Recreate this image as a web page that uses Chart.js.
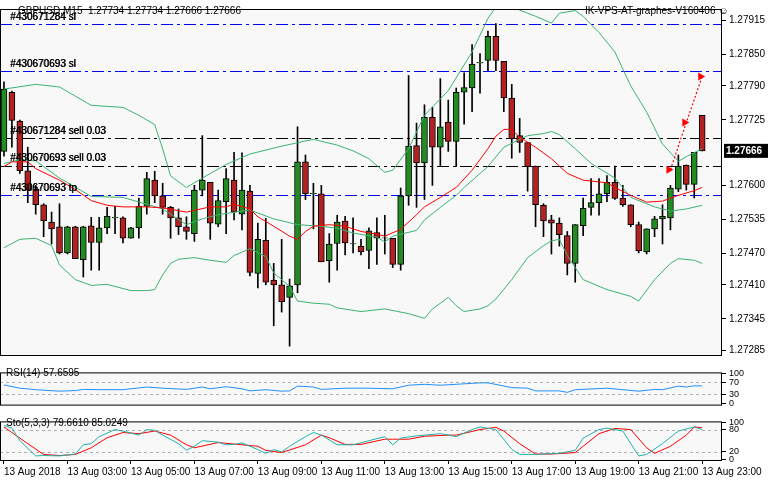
<!DOCTYPE html>
<html>
<head>
<meta charset="utf-8">
<script src="https://cdn.jsdelivr.net/npm/chart.js@4.4.0/dist/chart.umd.min.js"></script>
<style>
  body { margin: 0; background: #ffffff; width: 768px; height: 480px; overflow: hidden; }
  .pane { position: absolute; left: 0; width: 768px; }
  #main { top: 0; height: 364px; }
  #rsi { top: 364px; height: 49px; }
  #sto { top: 413px; height: 67px; }
</style>
</head>
<body>
<div class="pane" id="main"><canvas id="main-chart"></canvas></div>
<div class="pane" id="rsi"><canvas id="rsi-chart"></canvas></div>
<div class="pane" id="sto"><canvas id="sto-chart"></canvas></div>
<script>
// GBPUSD M15 candles, 13 Aug 2018 01:00 .. 23:00
const opens = [1.27665,1.27778,1.27723,1.27628,1.27593,1.27563,1.27530,1.27521,1.27471,1.27521,1.27458,1.27523,1.27491,1.27519,1.27538,1.27538,1.27499,1.27519,1.27560,1.27610,1.27580,1.27558,1.27538,1.27521,
  1.27508,1.27591,1.27606,1.27526,1.27569,1.27610,1.27545,1.27589,1.27432,1.27495,1.27419,1.27410,1.27386,1.27410,1.27645,1.27584,1.27584,1.27456,1.27489,1.27532,1.27488,1.27484,
  1.27476,1.27510,1.27499,1.27499,1.27449,1.27580,1.27676,1.27643,1.27730,1.27673,1.27721,1.27684,1.27778,1.27786,1.27834,1.27839,1.27885,1.27837,1.27767,1.27695,1.27682,1.27637,1.27562,
  1.27534,1.27528,1.27504,1.27451,1.27523,1.27558,1.27567,1.27584,1.27606,1.27576,1.27563,1.27525,1.27473,1.27517,1.27536,1.27538,1.27593,1.27639,1.27602,1.27734];
const highs = [1.27798,1.27780,1.27725,1.27673,1.27600,1.27565,1.27549,1.27565,1.27522,1.27522,1.27522,1.27539,1.27539,1.27558,1.27560,1.27540,1.27520,1.27576,1.27625,1.27627,1.27604,1.27560,1.27555,1.27540,
  1.27600,1.27695,1.27606,1.27591,1.27632,1.27663,1.27662,1.27600,1.27528,1.27537,1.27451,1.27497,1.27421,1.27712,1.27658,1.27604,1.27600,1.27508,1.27543,1.27541,1.27538,1.27497,
  1.27519,1.27538,1.27543,1.27499,1.27595,1.27810,1.27719,1.27754,1.27749,1.27804,1.27763,1.27786,1.27815,1.27869,1.27852,1.27895,1.27909,1.27837,1.27793,1.27728,1.27682,1.27637,1.27565,
  1.27543,1.27538,1.27512,1.27525,1.27576,1.27613,1.27613,1.27619,1.27637,1.27600,1.27563,1.27530,1.27517,1.27541,1.27563,1.27600,1.27658,1.27639,1.27663,1.27734];
const lows = [1.27656,1.27673,1.27623,1.27567,1.27545,1.27502,1.27488,1.27469,1.27469,1.27460,1.27425,1.27438,1.27438,1.27508,1.27508,1.27490,1.27499,1.27499,1.27545,1.27567,1.27545,1.27499,1.27506,1.27497,
  1.27493,1.27580,1.27497,1.27521,1.27508,1.27534,1.27515,1.27427,1.27404,1.27410,1.27332,1.27358,1.27293,1.27395,1.27573,1.27517,1.27454,1.27415,1.27438,1.27467,1.27471,1.27467,
  1.27441,1.27449,1.27469,1.27443,1.27438,1.27562,1.27558,1.27573,1.27600,1.27638,1.27665,1.27636,1.27717,1.27741,1.27776,1.27819,1.27819,1.27741,1.27652,1.27663,1.27589,1.27521,1.27502,
  1.27469,1.27484,1.27429,1.27415,1.27504,1.27543,1.27543,1.27569,1.27573,1.27560,1.27521,1.27471,1.27469,1.27502,1.27488,1.27515,1.27588,1.27591,1.27576,1.27666];
const closes = [1.27784,1.27724,1.27628,1.27591,1.27563,1.27532,1.27517,1.27471,1.27521,1.27460,1.27521,1.27491,1.27519,1.27541,1.27539,1.27499,1.27519,1.27560,1.27613,1.27580,1.27558,1.27538,1.27521,1.27512,
  1.27591,1.27610,1.27528,1.27571,1.27613,1.27549,1.27591,1.27434,1.27497,1.27415,1.27410,1.27378,1.27408,1.27645,1.27584,1.27585,1.27454,1.27488,1.27530,1.27490,1.27489,1.27473,
  1.27513,1.27499,1.27500,1.27449,1.27580,1.27675,1.27643,1.27730,1.27673,1.27712,1.27684,1.27778,1.27787,1.27832,1.27835,1.27885,1.27839,1.27767,1.27689,1.27682,1.27636,1.27563,1.27532,
  1.27528,1.27506,1.27451,1.27525,1.27556,1.27567,1.27584,1.27606,1.27575,1.27563,1.27525,1.27475,1.27517,1.27536,1.27541,1.27595,1.27637,1.27602,1.27663,1.27666];

// time axis labels (every 8 bars)
const timeLabels = ['13 Aug 2018','13 Aug 03:00','13 Aug 05:00','13 Aug 07:00','13 Aug 09:00','13 Aug 11:00',
  '13 Aug 13:00','13 Aug 15:00','13 Aug 17:00','13 Aug 19:00','13 Aug 21:00','13 Aug 23:00'];
const slotCount = 91;

// Bollinger bands and moving average, read at their turning points (bar index / price)
const bbUpperIdx = [0,4,7,11,15,17,19,20,21,23,25,28,31,35,39,42,44,46,48,49,51,53,56,59,61,62,64,67,69,70,72,73,75,77,79,81,83,85,86,88];
const bbUpperVal = [1.27784,1.27793,1.27788,1.27753,1.27749,1.27734,1.27716,1.27670,1.27618,1.27596,1.27614,1.27640,1.27660,1.27675,1.27688,1.27677,1.27666,1.27651,1.27625,1.27629,1.27670,1.27734,1.27781,1.27855,1.27919,1.27941,1.27941,1.27923,1.27910,1.27929,1.27934,1.27923,1.27892,1.27855,1.27790,1.27740,1.27679,1.27646,1.27655,1.27670];
const bbMidIdx = [0,2,4,7,11,15,18,20,23,25,27,30,31,34,37,40,42,44,47,48,49,52,53,55,57,58,61,63,65,66,68,69,70,72,74,77,79,82,84,86,88];
const bbMidVal = [1.27642,1.27649,1.27647,1.27614,1.27579,1.27577,1.27564,1.27555,1.27525,1.27536,1.27544,1.27551,1.27553,1.27536,1.27525,1.27522,1.27518,1.27509,1.27501,1.27492,1.27503,1.27514,1.27534,1.27558,1.27581,1.27596,1.27636,1.27673,1.27688,1.27695,1.27699,1.27703,1.27697,1.27670,1.27642,1.27614,1.27577,1.27559,1.27551,1.27555,1.27562];
const bbLowIdx = [0,2,4,6,7,9,11,13,16,18,19,20,21,22,24,26,28,29,31,33,34,36,37,39,41,42,45,48,51,53,54,56,57,58,60,61,62,64,66,68,69,70,71,73,76,79,80,82,84,85,87,88];
const bbLowVal = [1.27481,1.27497,1.27499,1.27485,1.27448,1.27420,1.27409,1.27411,1.27399,1.27399,1.27401,1.27429,1.27451,1.27459,1.27462,1.27457,1.27453,1.27466,1.27479,1.27464,1.27433,1.27407,1.27379,1.27375,1.27373,1.27366,1.27359,1.27364,1.27355,1.27346,1.27364,1.27386,1.27370,1.27359,1.27364,1.27370,1.27383,1.27420,1.27462,1.27485,1.27494,1.27497,1.27466,1.27420,1.27401,1.27388,1.27379,1.27420,1.27451,1.27460,1.27457,1.27451];
const maIdx = [0,1,3,4,7,9,11,13,15,18,20,23,26,28,29,31,32,34,36,37,38,39,41,43,45,47,48,50,52,53,55,57,59,61,62,63,64,65,67,69,71,73,76,77,79,81,83,85,87,88];
const maVal = [1.27636,1.27645,1.27645,1.27632,1.27610,1.27592,1.27571,1.27562,1.27559,1.27559,1.27557,1.27549,1.27559,1.27559,1.27564,1.27555,1.27540,1.27522,1.27503,1.27497,1.27512,1.27522,1.27525,1.27522,1.27512,1.27507,1.27503,1.27516,1.27544,1.27559,1.27577,1.27596,1.27629,1.27670,1.27694,1.27707,1.27707,1.27692,1.27673,1.27651,1.27623,1.27610,1.27605,1.27596,1.27581,1.27568,1.27570,1.27581,1.27590,1.27596];

// trade projection (dotted red)
const projIdx = [84,86,88];
const projVal = [1.27630,1.27720,1.27808];

// order levels
const orderPrices = [1.27908,1.27819,1.27690,1.27638,1.27581];
const orderLabels = ['#430671284 sl','#430670693 sl','#430671284 sell 0.03','#430670693 sell 0.03','#430670693 tp'];
const orderColors = ['#0000ff','#0000ff','#000000','#000000','#0000ff'];

const priceTicks = [1.27915,1.27850,1.27790,1.27725,1.27600,1.27535,1.27470,1.27410,1.27345,1.27285];
const lastPrice = 1.27666;

// RSI(14)
const rsiIdx = [0,2,4,7,9,10,12,15,16,18,20,23,25,26,28,30,31,33,35,36,37,39,40,43,46,49,51,53,55,57,60,61,64,66,67,70,71,72,76,78,80,82,83,85,86,87,88];
const rsiVal = [61,50,45,40,42,46,45,45,48,54,50,46,54,48,55,48,41,45,40,41,57,54,46,50,50,48,60,63,60,63,68,68,52,50,41,41,36,45,50,45,40,46,45,57,54,58,57.66];

// Stochastic(5,3,3)
const stoMainIdx = [0,1,2,4,5,7,9,10,11,12,14,15,17,18,19,20,22,23,24,25,27,28,29,30,32,33,34,35,36,38,39,40,42,44,46,48,49,50,52,55,57,59,60,62,64,65,67,70,72,73,75,76,78,79,80,81,83,85,87,88];
const stoMainVal = [91,84,50,9,10,9,14,39,42,61,80,76,65,80,78,65,42,24,35,50,46,39,40,44,26,16,26,20,35,61,72,65,39,39,50,61,39,57,63,69,61,80,87,80,27,13,13,16,24,57,80,84,76,42,9,13,42,76,87,79.66];
const stoSigIdx = [0,1,3,5,7,9,11,13,15,17,19,21,23,24,27,29,32,33,35,38,40,41,43,45,48,49,51,53,56,57,60,62,63,65,67,69,72,73,75,77,79,81,82,84,86,87,88];
const stoSigVal = [87,72,42,13,10,13,31,58,72,69,76,65,39,31,45,41,35,24,18,39,65,58,40,40,54,54,54,62,65,65,80,86,76,42,14,14,18,35,69,83,80,31,16,35,65,87,85.02];

const FONT = 'Liberation Sans';
Chart.defaults.font.family = FONT;
Chart.defaults.font.size = 10;
Chart.defaults.color = '#000';
Chart.defaults.animation = false;

const slots = [];
for (let i = 0; i < slotCount; i++) slots.push(i);
const pts = (idx, val) => idx.map((x, i) => ({x: x, y: val[i]}));
const fix = s => { s.width = 46; };

// frame + background for each pane
const framePlugin = {
  id: 'frame',
  beforeDraw(chart) {
    const a = chart.chartArea, c = chart.ctx;
    c.save();
    c.fillStyle = '#f8f8f8';
    c.fillRect(a.left, a.top, a.right - a.left, a.bottom - a.top);
    c.restore();
  },
  afterDraw(chart) {
    const a = chart.chartArea, c = chart.ctx;
    c.save();
    c.strokeStyle = '#000';
    c.lineWidth = 1;
    c.strokeRect(a.left + 0.5, a.top + 0.5, a.right - a.left - 1, a.bottom - a.top);
    c.restore();
  }
};

function levelLines(chart, levels, color) {
  const a = chart.chartArea, c = chart.ctx, y = chart.scales.y;
  c.save();
  c.strokeStyle = color;
  c.lineWidth = 1;
  c.setLineDash([3, 3]);
  levels.forEach(v => {
    const py = Math.round(y.getPixelForValue(v)) + 0.5;
    c.beginPath(); c.moveTo(a.left, py); c.lineTo(a.right, py); c.stroke();
  });
  c.restore();
}

const mainPlugin = {
  id: 'mainDecor',
  beforeDatasetsDraw(chart) {
    const a = chart.chartArea, c = chart.ctx, y = chart.scales.y;
    c.save();
    c.lineWidth = 1;
    c.setLineDash([12, 4, 3, 4]);
    orderPrices.forEach((p, i) => {
      const py = Math.round(y.getPixelForValue(p)) + 0.5;
      c.strokeStyle = orderColors[i];
      c.beginPath(); c.moveTo(a.left, py); c.lineTo(a.right, py); c.stroke();
    });
    c.restore();
  },
  afterDraw(chart) {
    const a = chart.chartArea, c = chart.ctx, y = chart.scales.y;
    c.save();
    c.font = '10px ' + FONT;
    c.fillStyle = '#000';
    c.textBaseline = 'bottom';
    orderPrices.forEach((p, i) => {
      const py = y.getPixelForValue(p);
      c.fillText(orderLabels[i], 10, py - 2);
      c.fillText(orderLabels[i], 10.6, py - 2);
    });
    c.textBaseline = 'top';
    c.fillText('GBPUSD,M15  1.27734 1.27734 1.27666 1.27666', 18, 6);
    c.fillText('IK-VPS-AT-graphes-V160406 \u263A', 585, 6);
    // current price box
    const py = y.getPixelForValue(lastPrice);
    c.fillStyle = '#000';
    c.fillRect(a.right + 2, py - 7, 768 - a.right - 2, 14);
    c.fillStyle = '#fff';
    c.font = 'bold 10px ' + FONT;
    c.textBaseline = 'middle';
    c.fillText(lastPrice.toFixed(5), a.right + 4, py);
    // projection arrows
    c.fillStyle = '#ff0000';
    projIdx.forEach((ix, i) => {
      const px = chart.scales.x.getPixelForValue(ix), qy = y.getPixelForValue(projVal[i]);
      c.beginPath(); c.moveTo(px - 4, qy - 4); c.lineTo(px + 3, qy); c.lineTo(px - 4, qy + 4); c.closePath(); c.fill();
    });
    c.restore();
  }
};

const bodyColors = opens.map((o, i) => closes[i] > o ? '#228b22' : (closes[i] < o ? '#b22222' : '#000'));

new Chart(document.getElementById('main-chart'), {
  type: 'bar',
  data: {
    labels: slots,
    datasets: [
      { label: 'upper', type: 'line', data: pts(bbUpperIdx, bbUpperVal), borderColor: '#3cb371', borderWidth: 1, pointRadius: 0, order: -1 },
      { label: 'middle', type: 'line', data: pts(bbMidIdx, bbMidVal), borderColor: '#3cb371', borderWidth: 1, pointRadius: 0, order: -1 },
      { label: 'lower', type: 'line', data: pts(bbLowIdx, bbLowVal), borderColor: '#3cb371', borderWidth: 1, pointRadius: 0, order: -1 },
      { label: 'ma', type: 'line', data: pts(maIdx, maVal), borderColor: '#ff0000', borderWidth: 1, pointRadius: 0, order: -2 },
      { label: 'proj', type: 'line', data: pts(projIdx, projVal), borderColor: '#ff0000', borderWidth: 1.2, borderDash: [2, 2], pointRadius: 0, order: -3 },
      { label: 'body', data: opens.map((o, i) => [o, closes[i]]), backgroundColor: bodyColors, borderColor: '#000', borderWidth: 1, borderSkipped: false, barThickness: 6, grouped: false, order: 0 },
      { label: 'wick', data: lows.map((l, i) => [l, highs[i]]), backgroundColor: '#000', barThickness: 1, grouped: false, order: 1 }
    ]
  },
  options: {
    responsive: true, maintainAspectRatio: false,
    layout: { padding: { top: 5, left: 0, bottom: 1 } },
    plugins: { legend: { display: false }, tooltip: { enabled: false } },
    scales: {
      x: { display: false, offset: true },
      y: {
        position: 'right', min: 1.27276, max: 1.27937, afterFit: fix,
        grid: { drawOnChartArea: false, tickLength: 4, color: '#000' },
        border: { display: false },
        afterBuildTicks: s => { s.ticks = priceTicks.map(v => ({ value: v })); },
        ticks: { autoSkip: false, callback: v => v.toFixed(5), padding: 3 }
      }
    }
  },
  plugins: [framePlugin, mainPlugin]
});

new Chart(document.getElementById('rsi-chart'), {
  type: 'line',
  data: {
    labels: slots,
    datasets: [{ data: pts(rsiIdx, rsiVal), borderColor: '#1e90ff', borderWidth: 1, pointRadius: 0 }]
  },
  options: {
    responsive: true, maintainAspectRatio: false,
    layout: { padding: { top: 1, bottom: 1 } },
    plugins: { legend: { display: false }, tooltip: { enabled: false } },
    scales: {
      x: { display: false, offset: true },
      y: {
        position: 'right', min: -5, max: 103, afterFit: fix,
        grid: { drawOnChartArea: false, tickLength: 4, color: '#000' },
        border: { display: false },
        afterBuildTicks: s => { s.ticks = [100, 70, 30, 0].map(v => ({ value: v })); },
        ticks: { autoSkip: false, padding: 3, font: { size: 9 } }
      }
    }
  },
  plugins: [framePlugin, {
    id: 'rsiDecor',
    beforeDatasetsDraw(chart) { levelLines(chart, [70, 30], '#b0b0b0'); },
    afterDraw(chart) {
      const c = chart.ctx;
      c.save(); c.font = '10px ' + FONT; c.fillStyle = '#000'; c.textBaseline = 'top';
      c.fillText('RSI(14) 57.6595', 6, 4); c.restore();
    }
  }]
});

new Chart(document.getElementById('sto-chart'), {
  type: 'line',
  data: {
    labels: slots,
    datasets: [
      { data: pts(stoMainIdx, stoMainVal), borderColor: '#20b2aa', borderWidth: 1, pointRadius: 0 },
      { data: pts(stoSigIdx, stoSigVal), borderColor: '#ff0000', borderWidth: 1, pointRadius: 0 }
    ]
  },
  options: {
    responsive: true, maintainAspectRatio: false,
    layout: { padding: { top: 1, bottom: 0 } },
    plugins: { legend: { display: false }, tooltip: { enabled: false } },
    scales: {
      x: {
        offset: true,
        grid: { drawOnChartArea: false, offset: false, tickLength: 4, color: '#000' },
        border: { display: false },
        afterBuildTicks: s => { s.ticks = timeLabels.map((t, i) => ({ value: i * 8 })); },
        ticks: { autoSkip: false, maxRotation: 0, align: 'start', padding: 2,
          callback: (v, i) => timeLabels[i] }
      },
      y: {
        position: 'right', min: -2, max: 102, afterFit: fix,
        grid: { drawOnChartArea: false, tickLength: 4, color: '#000' },
        border: { display: false },
        afterBuildTicks: s => { s.ticks = [100, 80, 20, 0].map(v => ({ value: v })); },
        ticks: { autoSkip: false, padding: 3, font: { size: 9 } }
      }
    }
  },
  plugins: [framePlugin, {
    id: 'stoDecor',
    beforeDatasetsDraw(chart) { levelLines(chart, [80, 20], '#b0b0b0'); },
    afterDraw(chart) {
      const c = chart.ctx;
      c.save(); c.font = '10px ' + FONT; c.fillStyle = '#000'; c.textBaseline = 'top';
      c.fillText('Sto(5,3,3) 79.6610 85.0249', 6, 5); c.restore();
    }
  }]
});
</script>
</body>
</html>
